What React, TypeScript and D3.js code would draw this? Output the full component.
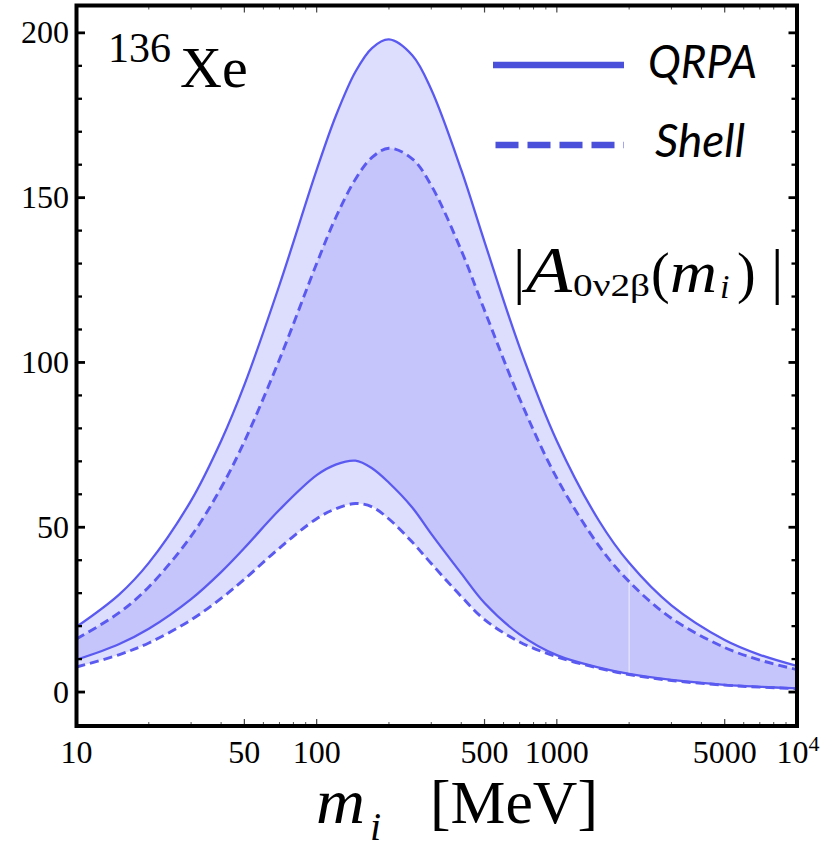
import React from "react";
import * as d3 from "d3";

// ---- data ----
const masses = [10, 15, 20, 30, 40, 50, 70, 100, 120, 145, 170, 200, 250, 300, 400, 500, 700, 1000, 1500, 2000, 3000, 5000, 7000, 10000];
const qrpaUpper = [19.8, 29.5, 39.2, 58.1, 76.2, 93.2, 123.5, 158.4, 174.7, 188.2, 195.4, 198.0, 193.2, 182.8, 158.4, 136.6, 104.6, 76.2, 51.9, 39.2, 26.3, 15.8, 11.3, 7.9];
const shellUpper = [16.1, 24.0, 31.9, 47.3, 62.0, 76.0, 100.9, 130.0, 143.9, 155.6, 162.2, 165.0, 161.8, 153.7, 134.0, 115.8, 89.0, 64.9, 44.3, 33.5, 22.4, 13.5, 9.7, 6.8];
const qrpaLower = [9.8, 14.5, 19.2, 28.2, 36.4, 43.7, 55.3, 65.8, 69.0, 70.2, 67.9, 63.5, 56.0, 48.0, 36.0, 27.0, 17.5, 11.2, 7.4, 5.5, 3.7, 2.2, 1.6, 1.1];
const shellLower = [7.6, 11.3, 14.9, 21.9, 28.4, 34.2, 43.7, 52.6, 55.6, 57.2, 56.2, 52.5, 45.5, 39.0, 29.0, 22.0, 15.2, 10.7, 7.2, 5.3, 3.5, 2.1, 1.5, 1.0];

const xMajorTicks = [10, 50, 100, 500, 1000, 5000, 10000];
const xTickLabels = ["10", "50", "100", "500", "1000", "5000", "10^4"];
const xMinorTicks = [20, 30, 40, 60, 70, 80, 90, 200, 300, 400, 600, 700, 800, 900, 2000, 3000, 4000, 6000, 7000, 8000, 9000];
const yMajorTicks = [0, 50, 100, 150, 200];
const yMinorTicks = [10, 20, 30, 40, 60, 70, 80, 90, 110, 120, 130, 140, 160, 170, 180, 190];
const artifactMass = 2000;

const legendLabels = ["QRPA", "Shell"];

const W = 833;
const H = 848;
const L = 76.5, R = 797, T = 5.5, B = 726;

const x = d3.scaleLog().domain([10, 10000]).range([L, R]);
const y = d3.scaleLinear().domain([-10.3, 208.3]).range([B, T]);

const LINE = "#5a5af0";
const LEG = "#4a50d9";
const FILL = "rgb(139,139,248)";
const SERIF = "'Liberation Serif', 'Times New Roman', serif";

export default function App() {
  const idx = masses.map((_, i) => i);
  const curve = d3.curveCatmullRom.alpha(0.5);
  const line = (vals: number[]) =>
    d3.line<number>().x((i) => x(masses[i])).y((i) => y(vals[i])).curve(curve)(idx) || "";
  const band = (hi: number[], lo: number[]) =>
    d3
      .area<number>()
      .x((i) => x(masses[i]))
      .y0((i) => y(lo[i]))
      .y1((i) => y(hi[i]))
      .curve(curve)(idx) || "";

  const ai = masses.indexOf(artifactMass);

  return (
    <svg width={W} height={H} style={{ position: "absolute", left: 0, top: 0, background: "#fff" }}>
      <defs>
        <clipPath id="plotclip">
          <rect x={L} y={T} width={R - L} height={B - T} />
        </clipPath>
      </defs>
      <g clipPath="url(#plotclip)">
        <path d={band(qrpaUpper, qrpaLower)} fill={FILL} fillOpacity={0.294} stroke="none" />
        <path d={band(shellUpper, shellLower)} fill={FILL} fillOpacity={0.294} stroke="none" />
        <line
          x1={x(artifactMass)}
          x2={x(artifactMass)}
          y1={y(qrpaUpper[ai])}
          y2={y(qrpaLower[ai])}
          stroke="#fff"
          strokeOpacity={0.7}
          strokeWidth={1}
        />
        <path d={line(qrpaUpper)} fill="none" stroke={LINE} strokeWidth={2.3} />
        <path d={line(qrpaLower)} fill="none" stroke={LINE} strokeWidth={2.3} />
        <path d={line(shellUpper)} fill="none" stroke={LINE} strokeWidth={2.9} strokeDasharray="9 5" />
        <path d={line(shellLower)} fill="none" stroke={LINE} strokeWidth={2.9} strokeDasharray="9 5" />
      </g>

      {/* ticks */}
      <g stroke="#000">
        {yMajorTicks.map((v) => (
          <g key={"ym" + v}>
            <line x1={L} x2={L + 8.5} y1={y(v)} y2={y(v)} strokeWidth={2.8} />
            <line x1={R} x2={R - 8.5} y1={y(v)} y2={y(v)} strokeWidth={2.8} />
          </g>
        ))}
        {yMinorTicks.map((v) => (
          <g key={"yn" + v}>
            <line x1={L} x2={L + 5.5} y1={y(v)} y2={y(v)} strokeWidth={2.3} />
            <line x1={R} x2={R - 5.5} y1={y(v)} y2={y(v)} strokeWidth={2.3} />
          </g>
        ))}
        {xMajorTicks.map((v) => (
          <g key={"xm" + v}>
            <line x1={x(v)} x2={x(v)} y1={B} y2={B - 7} strokeWidth={1.2} stroke="#444" />
            <line x1={x(v)} x2={x(v)} y1={T} y2={T + 7} strokeWidth={1.2} stroke="#444" />
          </g>
        ))}
        {xMinorTicks.map((v) => (
          <g key={"xn" + v}>
            <line x1={x(v)} x2={x(v)} y1={B} y2={B - 4} strokeWidth={1} stroke="#555" />
            <line x1={x(v)} x2={x(v)} y1={T} y2={T + 4} strokeWidth={1} stroke="#555" />
          </g>
        ))}
      </g>

      {/* frame */}
      <rect x={L} y={T} width={R - L} height={B - T} fill="none" stroke="#000" strokeWidth={4} />

      {/* tick labels */}
      <g fontFamily={SERIF} fontSize={32} fill="#000">
        {yMajorTicks.map((v) => (
          <text key={"yl" + v} x={69} y={y(v) + 10.5} textAnchor="end">
            {String(v)}
          </text>
        ))}
        {xMajorTicks.map((v, i) => {
          const lab = xTickLabels[i];
          if (lab.includes("^")) {
            const [base, exp] = lab.split("^");
            return (
              <text key={"xl" + v} x={x(v) + 1} y={763} textAnchor="middle">
                <tspan>{base}</tspan>
                <tspan dy={-12} fontSize={22}>
                  {exp}
                </tspan>
              </text>
            );
          }
          return (
            <text key={"xl" + v} x={x(v)} y={763} textAnchor="middle">
              {lab}
            </text>
          );
        })}
      </g>

      {/* nucleus label */}
      <text x={108} y={62} fontFamily={SERIF} fontSize={42}>
        136
      </text>
      <text x={180} y={87} fontFamily={SERIF} fontSize={58}>
        Xe
      </text>

      {/* legend */}
      <line x1={493} x2={624} y1={65} y2={65} stroke={LEG} strokeWidth={6.5} />
      <text
        x={648}
        y={78}
        fontFamily="Lato, 'Open Sans', sans-serif"
        fontStyle="italic"
        fontSize={47}
        textLength={109}
        lengthAdjust="spacingAndGlyphs"
      >
        {legendLabels[0]}
      </text>
      <line x1={495.5} x2={624} y1={145} y2={145} stroke={LEG} strokeWidth={6.5} strokeDasharray="23 9" />
      <text
        x={655}
        y={157}
        fontFamily="Lato, 'Open Sans', sans-serif"
        fontStyle="italic"
        fontSize={46}
        textLength={90}
        lengthAdjust="spacingAndGlyphs"
      >
        {legendLabels[1]}
      </text>

      {/* amplitude label */}
      <g fontFamily={SERIF} fill="#000">
        <text x={513} y={292} fontSize={62}>|</text>
        <text x={526} y={292} fontSize={66} fontStyle="italic" textLength={46} lengthAdjust="spacingAndGlyphs">A</text>
        <text x={573} y={296} fontSize={32} textLength={77} lengthAdjust="spacingAndGlyphs">0ν2β</text>
        <text x={651} y={292} fontSize={56}>(</text>
        <text x={670} y={292} fontSize={60} fontStyle="italic" textLength={47} lengthAdjust="spacingAndGlyphs">m</text>
        <text x={720} y={298} fontSize={34} fontStyle="italic">i</text>
        <text x={737} y={292} fontSize={56}>)</text>
        <text x={771} y={292} fontSize={62}>|</text>
      </g>

      {/* x axis title */}
      <g fontFamily={SERIF} fill="#000">
        <text x={316} y={823} fontSize={64} fontStyle="italic" textLength={49} lengthAdjust="spacingAndGlyphs">m</text>
        <text x={370} y={840} fontSize={40} fontStyle="italic">i</text>
        <text x={430} y={823} fontSize={61} textLength={168} lengthAdjust="spacingAndGlyphs">[MeV]</text>
      </g>
    </svg>
  );
}
